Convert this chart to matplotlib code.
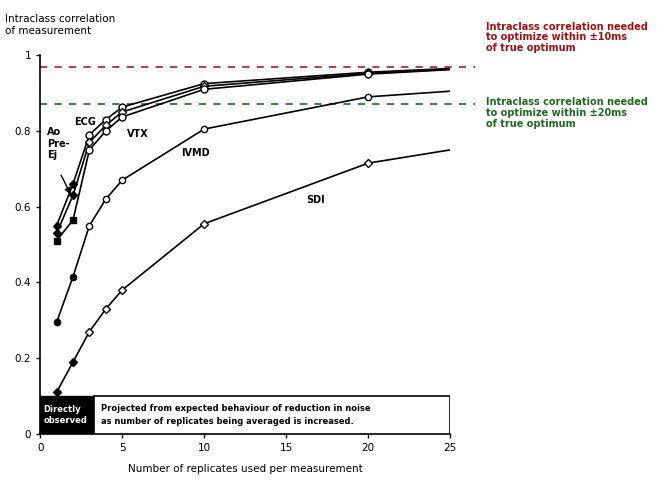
import matplotlib.pyplot as plt
from matplotlib.patches import Rectangle

# replicates used per measurement
reps = [1, 2, 3, 4, 5, 10, 20, 25]

# intraclass correlation per method
ecg = [0.55, 0.66, 0.79, 0.83, 0.863, 0.925, 0.955, 0.965]
ao_preej = [0.53, 0.63, 0.77, 0.815, 0.85, 0.918, 0.952, 0.963]
vtx = [0.51, 0.565, 0.75, 0.80, 0.837, 0.91, 0.95, 0.962]
ivmd = [0.295, 0.415, 0.55, 0.62, 0.67, 0.805, 0.89, 0.905]
sdi = [0.11, 0.19, 0.27, 0.33, 0.38, 0.555, 0.715, 0.75]

# number of directly observed points at the start of each series
n_observed = 2

threshold_10ms = 0.968
threshold_20ms = 0.87

fig = plt.figure(figsize=(6.7, 4.8), dpi=100)
ax = fig.add_axes([0.06, 0.096, 0.612, 0.789])

series = [
    (ecg, 'o', 5),
    (ao_preej, 'D', 4),
    (vtx, 'o', 5),
    (ivmd, 'o', 4.5),
    (sdi, 'D', 4),
]
obs_markers = ['D', 'D', 's', 'o', 'D']

for (vals, mk, ms), omk in zip(series, obs_markers):
    ax.plot(reps, vals, color='black', lw=1.2, zorder=3)
    # projected points: open markers (no marker at the end of the line)
    ax.plot(reps[n_observed:-1], vals[n_observed:-1], linestyle='none', marker=mk,
            ms=ms, mfc='white', mec='black', mew=1.0, zorder=4)
    # observed points: filled markers
    ax.plot(reps[:n_observed], vals[:n_observed], linestyle='none', marker=omk,
            ms=4.5, mfc='black', mec='black', zorder=4)

ax.plot([0, 26.5], [threshold_10ms] * 2, color='#b03030', ls=(0, (4, 4)), lw=1.3,
        clip_on=False, zorder=2)
ax.plot([0, 26.5], [threshold_20ms] * 2, color='#2f7a2f', ls=(0, (4, 4)), lw=1.3,
        clip_on=False, zorder=2)

fig.text(0.725, 0.955, 'Intraclass correlation needed\nto optimize within ±10ms\nof true optimum',
         color='#a01010', fontsize=7, fontweight='bold', va='top', linespacing=1.1)
fig.text(0.725, 0.797, 'Intraclass correlation needed\nto optimize within ±20ms\nof true optimum',
         color='#1f6a1f', fontsize=7, fontweight='bold', va='top', linespacing=1.1)

# series labels
lbl = dict(fontsize=7, fontweight='bold', color='black', zorder=5)
ax.text(2.05, 0.815, 'ECG', **lbl)
ax.text(5.3, 0.785, 'VTX', **lbl)
ax.text(8.6, 0.735, 'IVMD', **lbl)
ax.text(16.2, 0.61, 'SDI', **lbl)
ax.text(0.4, 0.81, 'Ao\nPre-\nEj', va='top', linespacing=1.2, **lbl)
ax.annotate('', xy=(1.95, 0.625), xytext=(1.2, 0.69),
            arrowprops=dict(arrowstyle='-|>', color='black', lw=1.0), zorder=5)

# observed / projected key inside the plot
ax.add_patch(Rectangle((0, 0), 3.3, 0.1, facecolor='black', edgecolor='black', zorder=5))
ax.add_patch(Rectangle((3.3, 0), 25 - 3.3, 0.1, facecolor='white', edgecolor='black',
                       lw=1.2, zorder=5))
ax.text(0.2, 0.05, 'Directly\nobserved', color='white', fontsize=6, fontweight='bold',
        va='center', linespacing=1.3, zorder=6)
ax.text(3.7, 0.05, 'Projected from expected behaviour of reduction in noise\n'
        'as number of replicates being averaged is increased.',
        color='black', fontsize=6, fontweight='bold', va='center', linespacing=1.5, zorder=6)

ax.set_xlim(0, 25)
ax.set_ylim(0, 1)
ax.set_xticks([0, 5, 10, 15, 20, 25])
ax.set_yticks([0, 0.2, 0.4, 0.6, 0.8, 1])
ax.set_yticklabels(['0', '0.2', '0.4', '0.6', '0.8', '1'])
ax.tick_params(labelsize=7.5, length=3, width=1)
for s in ['top', 'right']:
    ax.spines[s].set_visible(False)
for s in ['left', 'bottom']:
    ax.spines[s].set_linewidth(1.2)

ax.set_xlabel('Number of replicates used per measurement', fontsize=7.5, labelpad=8)
fig.text(0.008, 0.97, 'Intraclass correlation\nof measurement', fontsize=7.5,
         va='top', linespacing=1.2)

plt.savefig('out.png', dpi=100)
